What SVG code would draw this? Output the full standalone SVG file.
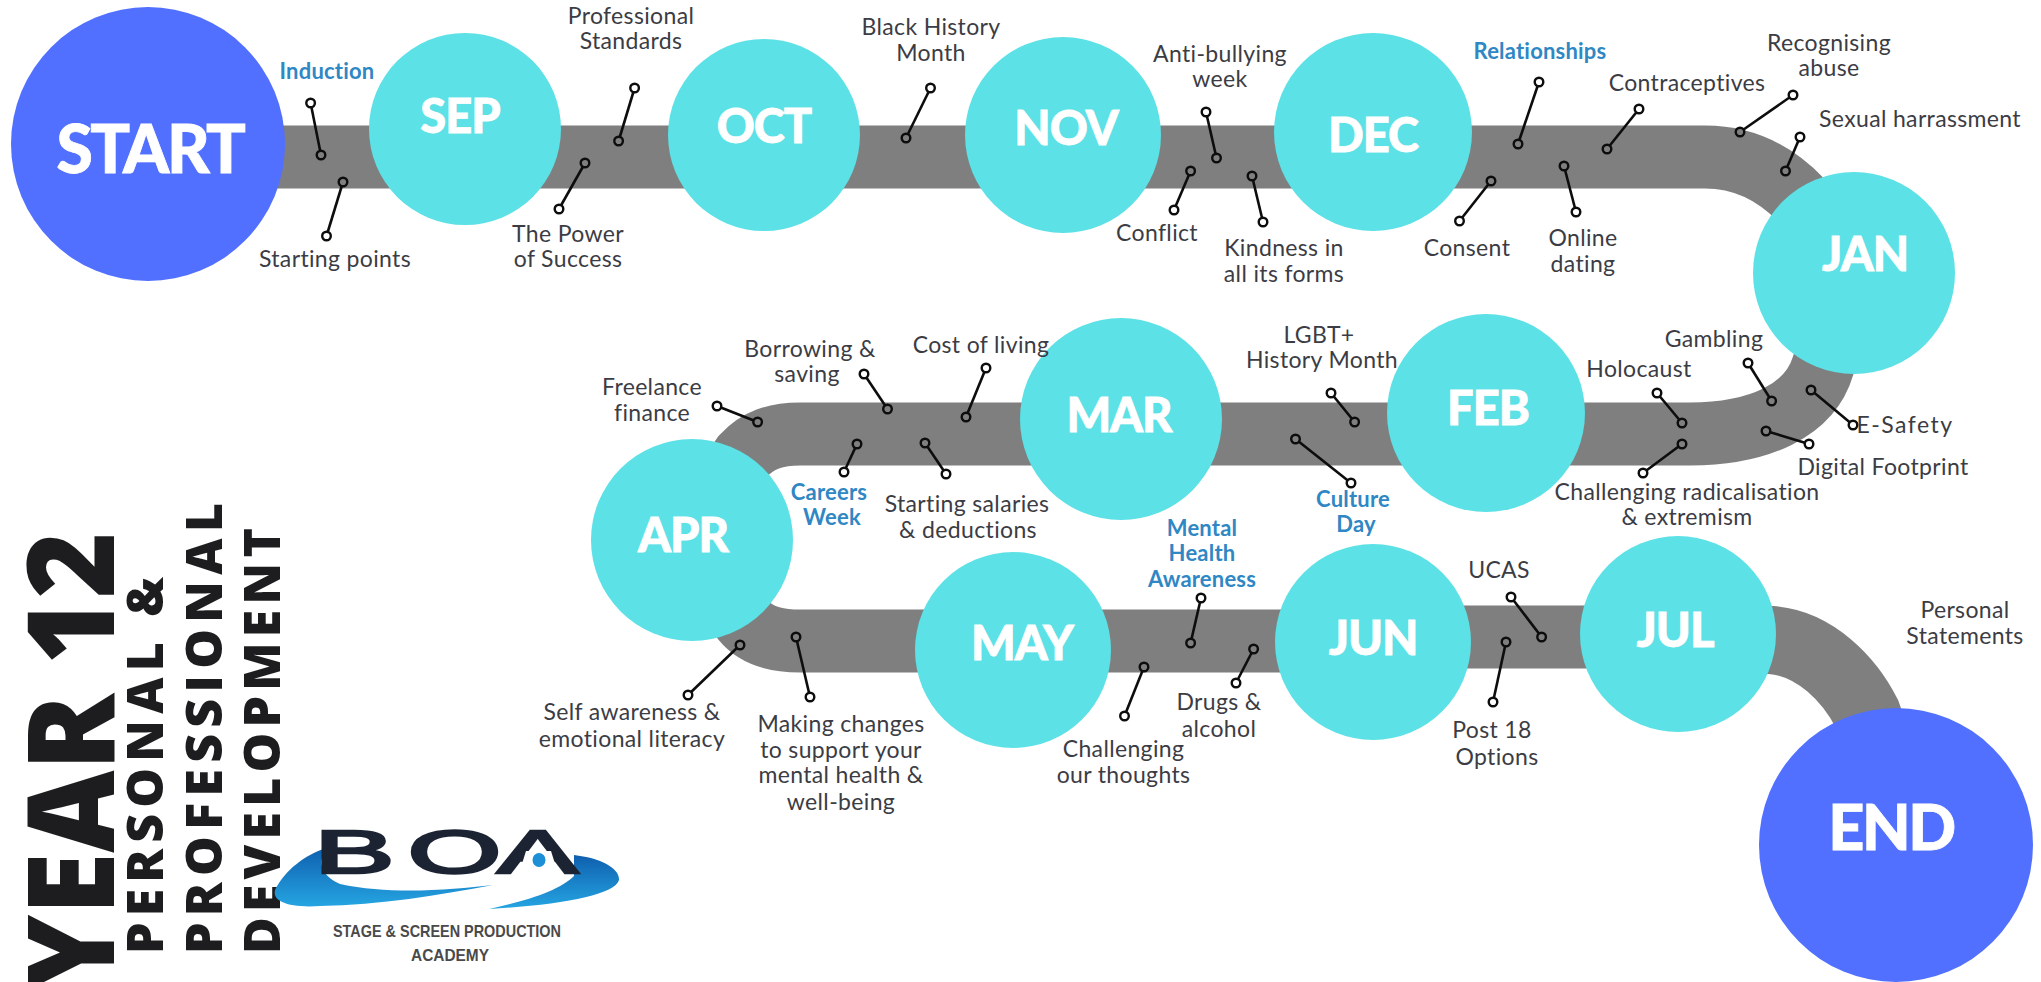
<svg xmlns="http://www.w3.org/2000/svg" width="2041" height="982" viewBox="0 0 2041 982">
<style>
.road{fill:none;stroke:#7f7f7f;stroke-width:63}
.pin{stroke:#0d0d0d;stroke-width:2.6;fill:none;marker-start:url(#ringG);marker-end:url(#ringW)}
.big{fill:#5170ff}.month{fill:#5ce1e6}
.nl{font-family:Lato,"Liberation Sans",sans-serif;font-weight:900;fill:#fff;stroke:#fff;stroke-width:.8;text-anchor:middle;font-size:47px;letter-spacing:-1px}
.t{font-family:Lato,"Open Sans",sans-serif;font-size:23px;letter-spacing:.35px;fill:#3c3c44;text-anchor:middle}
.b{fill:#2f87c4;font-weight:700;font-size:22px;letter-spacing:.2px}
.ti{font-family:"Open Sans","Liberation Sans",sans-serif;font-weight:800;fill:#1d1d1f}
</style>
<defs>
<marker id="ringG" markerUnits="userSpaceOnUse" markerWidth="14" markerHeight="14" refX="7" refY="7"><circle cx="7" cy="7" r="4.3" fill="#7f7f7f" stroke="#0d0d0d" stroke-width="2.4"/></marker>
<marker id="ringW" markerUnits="userSpaceOnUse" markerWidth="14" markerHeight="14" refX="7" refY="7"><circle cx="7" cy="7" r="4.3" fill="#fff" stroke="#0d0d0d" stroke-width="2.4"/></marker>
<linearGradient id="sw" x1="0" y1="0" x2="0" y2="1"><stop offset="0" stop-color="#0f5fae"/><stop offset="1" stop-color="#25a5e2"/></linearGradient>
</defs>
<rect width="2041" height="982" fill="#fff"/>
<g id="road">
<path class="road" d="M148 157H1705Q1760 157 1801 200L1840 250"/>
<path class="road" d="M700 520L743 456C758 440 775 434 800 434H1690C1760 434 1810 410 1823 366L1835 330"/>
<path class="road" d="M700 560L743 620Q760 641 800 641H1373"/>
<path class="road" d="M1373 637H1678"/>
<path class="road" style="stroke-width:68" d="M1678 640H1771C1815 643 1850 680 1867 714L1890 780"/>
</g>
<g id="connectors">
<line class="pin" x1="321" y1="155" x2="310.6" y2="103"/>
<line class="pin" x1="343" y1="182" x2="326.5" y2="236"/>
<line class="pin" x1="618.6" y1="141" x2="634.6" y2="88"/>
<line class="pin" x1="585" y1="163" x2="559" y2="209"/>
<line class="pin" x1="906" y1="138" x2="930.5" y2="88"/>
<line class="pin" x1="1216.5" y1="158" x2="1206" y2="112"/>
<line class="pin" x1="1190.6" y1="171" x2="1174" y2="210"/>
<line class="pin" x1="1252" y1="176" x2="1263" y2="222"/>
<line class="pin" x1="1518" y1="144" x2="1539" y2="82"/>
<line class="pin" x1="1491" y1="181" x2="1459.5" y2="221"/>
<line class="pin" x1="1564" y1="166" x2="1576" y2="212"/>
<line class="pin" x1="1607" y1="149" x2="1639" y2="109"/>
<line class="pin" x1="1740" y1="132" x2="1793" y2="95"/>
<line class="pin" x1="1785.5" y1="171" x2="1800" y2="137"/>
<line class="pin" x1="1354.6" y1="422" x2="1331" y2="393"/>
<line class="pin" x1="1295.5" y1="439" x2="1351" y2="483"/>
<line class="pin" x1="1682" y1="423" x2="1657" y2="393"/>
<line class="pin" x1="1682" y1="444" x2="1643" y2="473"/>
<line class="pin" x1="1771.6" y1="401" x2="1748" y2="363"/>
<line class="pin" x1="1811" y1="390" x2="1853" y2="425"/>
<line class="pin" x1="1766" y1="431" x2="1809" y2="444"/>
<line class="pin" x1="1190.6" y1="643" x2="1201" y2="598"/>
<line class="pin" x1="1253.6" y1="649" x2="1236" y2="683"/>
<line class="pin" x1="1144" y1="667" x2="1124.5" y2="716"/>
<line class="pin" x1="740" y1="645" x2="688" y2="695"/>
<line class="pin" x1="796" y1="637" x2="810" y2="697"/>
<line class="pin" x1="1541.6" y1="637" x2="1511" y2="597"/>
<line class="pin" x1="1506" y1="642" x2="1493" y2="702"/>
<line class="pin" x1="757.6" y1="422" x2="717" y2="406"/>
<line class="pin" x1="887.5" y1="409" x2="864" y2="374"/>
<line class="pin" x1="966" y1="417" x2="986" y2="368"/>
<line class="pin" x1="857" y1="444" x2="844" y2="472"/>
<line class="pin" x1="925" y1="443" x2="946" y2="474"/>
</g>
<g id="start"><circle class="big" cx="148" cy="144" r="137"/><text class="nl" style="font-size:66px;letter-spacing:-2.5px" x="150" y="173">START</text></g>
<g id="sep"><circle class="month" cx="465" cy="129" r="96"/><text class="nl" x="460" y="133">SEP</text></g>
<g id="oct"><circle class="month" cx="764" cy="135" r="96"/><text class="nl" x="764" y="143">OCT</text></g>
<g id="nov"><circle class="month" cx="1063" cy="135" r="98"/><text class="nl" x="1066" y="145">NOV</text></g>
<g id="dec"><circle class="month" cx="1373" cy="132" r="99"/><text class="nl" x="1373" y="152">DEC</text></g>
<g id="jan"><circle class="month" cx="1854" cy="273" r="101"/><text class="nl" x="1865" y="271">JAN</text></g>
<g id="feb"><circle class="month" cx="1486" cy="413" r="99"/><text class="nl" x="1488" y="425">FEB</text></g>
<g id="mar"><circle class="month" cx="1121" cy="419" r="101"/><text class="nl" x="1119" y="432">MAR</text></g>
<g id="apr"><circle class="month" cx="692" cy="540" r="101"/><text class="nl" x="683" y="552">APR</text></g>
<g id="may"><circle class="month" cx="1013" cy="650" r="98"/><text class="nl" x="1022" y="660">MAY</text></g>
<g id="jun"><circle class="month" cx="1373" cy="642" r="98"/><text class="nl" x="1373" y="655">JUN</text></g>
<g id="jul"><circle class="month" cx="1678" cy="634" r="98"/><text class="nl" x="1675" y="647">JUL</text></g>
<g id="end"><circle class="big" cx="1896" cy="845" r="137"/><text class="nl" style="font-size:63px;letter-spacing:-2.5px" x="1891" y="850">END</text></g>
<g id="labels">
<text class="t b" x="327" y="79">Induction</text>
<text class="t" x="335" y="267">Starting points</text>
<text class="t" x="631" y="24">Professional</text><text class="t" x="631" y="49">Standards</text>
<text class="t" x="568" y="242">The Power</text><text class="t" x="568" y="267">of Success</text>
<text class="t" x="931" y="35">Black History</text><text class="t" x="931" y="61">Month</text>
<text class="t" x="1220" y="62">Anti-bullying</text><text class="t" x="1220" y="87">week</text>
<text class="t" x="1157" y="241">Conflict</text>
<text class="t" x="1284" y="256">Kindness in</text><text class="t" x="1284" y="282">all its forms</text>
<text class="t b" x="1540" y="59">Relationships</text>
<text class="t" x="1467" y="256">Consent</text>
<text class="t" x="1583" y="246">Online</text><text class="t" x="1583" y="272">dating</text>
<text class="t" x="1687" y="91">Contraceptives</text>
<text class="t" x="1829" y="51">Recognising</text><text class="t" x="1829" y="76">abuse</text>
<text class="t" x="1920" y="127">Sexual harrassment</text>
<text class="t" x="1319" y="343">LGBT+</text><text class="t" x="1322" y="368">History Month</text>
<text class="t" x="1714" y="347">Gambling</text>
<text class="t" x="1639" y="377">Holocaust</text>
<text class="t" x="1905" y="433" style="letter-spacing:1.5px">E-Safety</text>
<text class="t" x="1883" y="475">Digital Footprint</text>
<text class="t" x="1687" y="500">Challenging radicalisation</text><text class="t" x="1687" y="525">&amp; extremism</text>
<text class="t b" x="1353" y="507">Culture</text><text class="t b" x="1356" y="532">Day</text>
<text class="t b" x="1202" y="536">Mental</text><text class="t b" x="1202" y="561">Health</text><text class="t b" x="1202" y="587">Awareness</text>
<text class="t" x="1499" y="578">UCAS</text>
<text class="t" x="1492" y="738">Post 18</text><text class="t" x="1497" y="765">Options</text>
<text class="t" x="1965" y="618">Personal</text><text class="t" x="1965" y="644">Statements</text>
<text class="t" x="652" y="395">Freelance</text><text class="t" x="652" y="421">finance</text>
<text class="t" x="810" y="357">Borrowing &amp;</text><text class="t" x="807" y="382">saving</text>
<text class="t" x="981" y="353">Cost of living</text>
<text class="t b" x="829" y="500">Careers</text><text class="t b" x="832" y="525">Week</text>
<text class="t" x="967" y="512">Starting salaries</text><text class="t" x="968" y="538">&amp; deductions</text>
<text class="t" x="632" y="720">Self awareness &amp;</text><text class="t" x="632" y="747">emotional literacy</text>
<text class="t" x="841" y="732">Making changes</text><text class="t" x="841" y="758">to support your</text><text class="t" x="841" y="783">mental health &amp;</text><text class="t" x="841" y="810">well-being</text>
<text class="t" x="1123.5" y="757">Challenging</text><text class="t" x="1123.5" y="783">our thoughts</text>
<text class="t" x="1219" y="710">Drugs &amp;</text><text class="t" x="1219" y="737">alcohol</text>
</g>
<g id="title">
<text class="ti" transform="translate(114,990) rotate(-90)" font-size="120" textLength="458" lengthAdjust="spacingAndGlyphs">YEAR 12</text>
<text class="ti" transform="translate(163,954) rotate(-90)" font-size="50" textLength="377">PERSONAL &amp;</text>
<text class="ti" transform="translate(222,954) rotate(-90)" font-size="50" textLength="451">PROFESSIONAL</text>
<text class="ti" transform="translate(280,954) rotate(-90)" font-size="50" textLength="426">DEVELOPMENT</text>
</g>
<g id="logo">
<path fill="url(#sw)" d="M275 890C285 870 305 855 326 848C318 862 320 875 340 884C390 895 450 890 493 885C440 895 380 905 320 906C290 908 272 902 275 890Z"/>
<path fill="url(#sw)" d="M574 855C600 858 620 868 619 880C615 895 560 905 489 909C530 900 560 890 574 876Z"/>
<text transform="translate(314,873) scale(1.95,1)" font-family="Liberation Sans,sans-serif" font-size="62" fill="#1c2433" stroke="#1c2433" stroke-width="2.5" x="0 48 94">BOA</text>
<path fill="#fff" d="M526 851H551L556 867H521Z"/>
<ellipse cx="539" cy="860" rx="6.5" ry="7" fill="#1d8fd6"/>
<text x="447" y="937" font-family="Liberation Sans,sans-serif" font-weight="700" font-size="17" fill="#4a4a4a" text-anchor="middle" textLength="228" lengthAdjust="spacingAndGlyphs">STAGE &amp; SCREEN PRODUCTION</text>
<text x="450" y="961" font-family="Liberation Sans,sans-serif" font-weight="700" font-size="17" fill="#4a4a4a" text-anchor="middle" textLength="78" lengthAdjust="spacingAndGlyphs">ACADEMY</text>
</g>
</svg>
